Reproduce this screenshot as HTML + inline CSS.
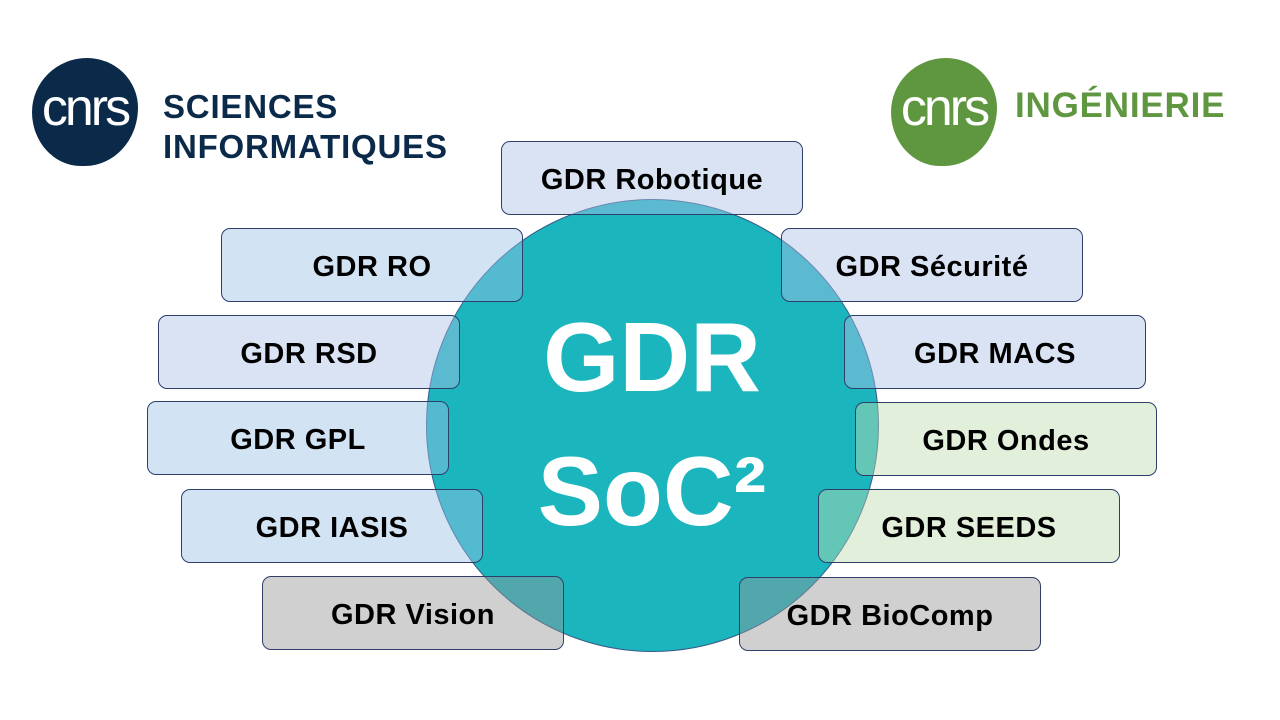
<!DOCTYPE html>
<html><head><meta charset="utf-8"><style>
body{margin:0;width:1280px;height:720px;background:#fff;position:relative;overflow:hidden;font-family:"Liberation Sans",sans-serif}
.b{position:absolute;width:302px;height:74px;border:1.3px solid #2f3f6a;border-radius:9px;box-sizing:border-box;line-height:76px;text-align:center;font-weight:bold;font-size:29px;letter-spacing:0.5px;color:#000}
.bl{background:rgba(171,192,228,0.443)}.bl2{background:rgba(153,192,228,0.443)}.gr{background:rgba(190,219,172,0.443)}.gy{background:rgba(149,149,149,0.443)}
#c{position:absolute;left:426px;top:199px;width:453px;height:453px;border-radius:50%;background:#1bb5be;border:1px solid #3a5a8a;box-sizing:border-box}
.big{position:absolute;width:452px;left:426px;text-align:center;color:#fff;font-weight:bold;font-size:98px}
.logo{position:absolute;width:106px;height:108px;border-radius:52% 48% 50% 46%/50% 46% 54% 50%;color:#fff;font-size:52px;text-align:center;line-height:100px;letter-spacing:-3px}
.lt{position:absolute;font-weight:bold;font-size:33px;line-height:40px;letter-spacing:0.8px}
</style></head><body>
<div class="logo" style="left:32px;top:58px;background:#0b2a4a">cnrs</div>
<div class="lt" style="left:163px;top:87px;color:#0b2a4a">SCIENCES<br>INFORMATIQUES</div>
<div class="logo" style="left:891px;top:58px;background:#5f9640">cnrs</div>
<div class="lt" style="left:1015px;top:86px;color:#5f9640;font-size:35px">INGÉNIERIE</div>

<div id="c"></div>

<div class="b bl" style="left:501px;top:141px">GDR Robotique</div>
<div class="b bl2" style="left:221px;top:228px">GDR RO</div>
<div class="b bl" style="left:781px;top:228px">GDR Sécurité</div>
<div class="b bl" style="left:158px;top:315px">GDR RSD</div>
<div class="b bl" style="left:844px;top:315px">GDR MACS</div>
<div class="b bl2" style="left:147px;top:401px">GDR GPL</div>
<div class="b gr" style="left:855px;top:402px">GDR Ondes</div>
<div class="b bl2" style="left:181px;top:489px">GDR IASIS</div>
<div class="b gr" style="left:818px;top:489px">GDR SEEDS</div>
<div class="b gy" style="left:262px;top:576px">GDR Vision</div>
<div class="b gy" style="left:739px;top:577px">GDR BioComp</div>

<div class="big" style="top:301px">GDR</div>
<div class="big" style="top:435px">SoC²</div>
</body></html>
